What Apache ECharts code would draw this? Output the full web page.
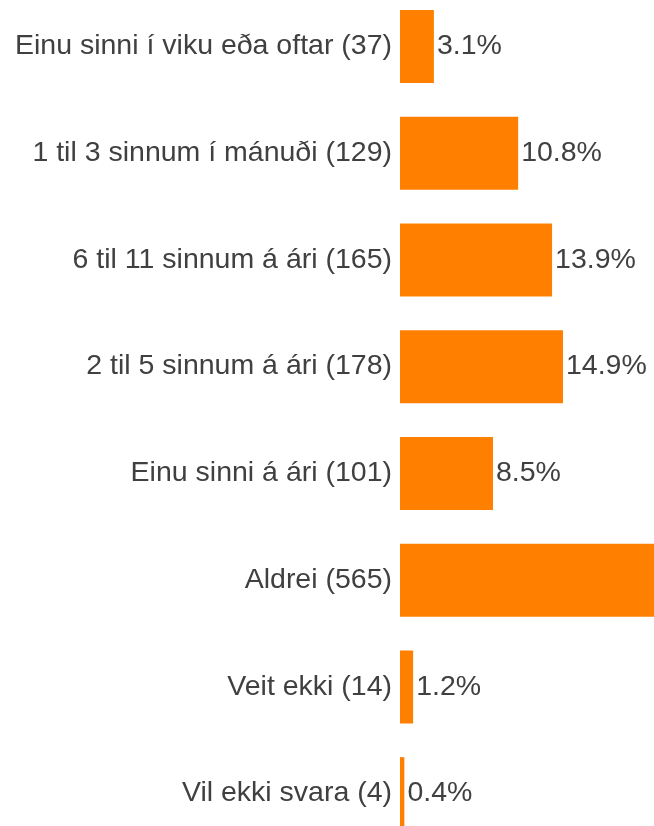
<!DOCTYPE html>
<html>
<head>
<meta charset="utf-8">
<script src="https://cdn.jsdelivr.net/npm/echarts@6/dist/echarts.min.js"></script>
<style>
  html, body { margin: 0; padding: 0; background: #fff; overflow: hidden; width: 654px; height: 826px; }
  /* the reference is a crop of a larger chart: draw big, let the window cut it */
  #chart { position: absolute; left: 0; top: -7px; width: 960px; height: 860px; }
</style>
</head>
<body>
<div id="chart"></div>
<script>
// categories, as shown on the left
const categories = [
    'Einu sinni í viku eða oftar',
    '1 til 3 sinnum í mánuði',
    '6 til 11 sinnum á ári',
    '2 til 5 sinnum á ári',
    'Einu sinni á ári',
    'Aldrei',
    'Veit ekki',
    'Vil ekki svara'
];
const counts = [37, 129, 165, 178, 101, 565, 14, 4];
const percents = [3.1, 10.8, 13.9, 14.9, 8.5, 47.4, 1.2, 0.4];

const fontStack = '"Liberation Sans", Arial, sans-serif';
const textColor = '#404040';

const myChart = echarts.init(document.getElementById('chart'), null, { renderer: 'canvas' });

const option = {
    animation: false,
    grid: { left: 400, top: 0, width: 547, height: 854, containLabel: false },
    xAxis: {
        type: 'value',
        min: 0,
        max: 50,
        show: false
    },
    yAxis: {
        type: 'category',
        inverse: true,
        data: categories.map((c, i) => c + ' (' + counts[i] + ')'),
        axisLine: { show: false },
        axisTick: { show: false },
        splitLine: { show: false },
        axisLabel: {
            margin: 8,
            fontSize: 28.5,
            color: textColor,
            fontFamily: fontStack
        }
    },
    series: [
        {
            type: 'bar',
            data: percents,
            barWidth: 73,
            itemStyle: { color: '#ff8000' },
            label: {
                show: true,
                position: 'right',
                distance: 3,
                fontSize: 28.5,
                color: textColor,
                fontFamily: fontStack,
                formatter: p => p.value.toFixed(1) + '%'
            }
        }
    ]
};

myChart.setOption(option);
</script>
</body>
</html>
